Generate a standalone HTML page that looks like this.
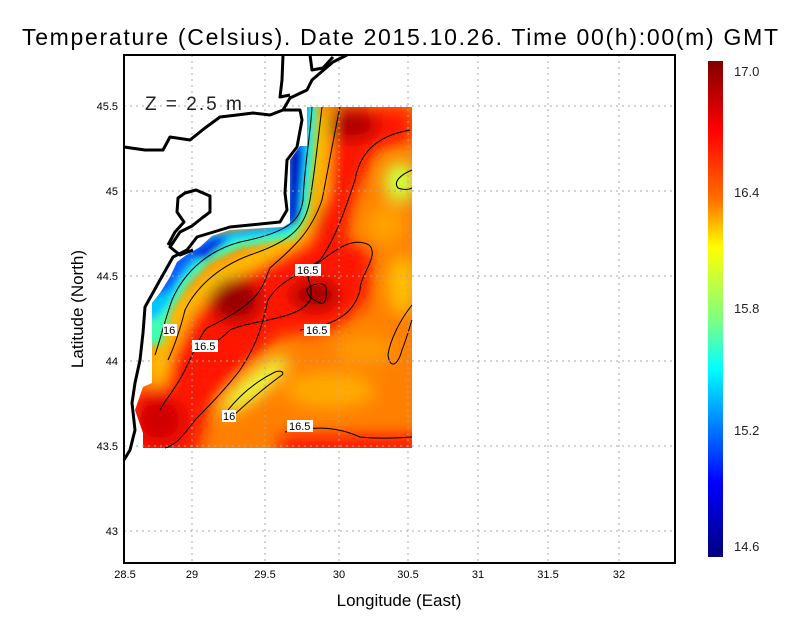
<!DOCTYPE html>
<html><head><style>
body{margin:0;background:#fff;}
svg text{font-family:"Liberation Sans",sans-serif;}
</style></head><body>
<svg width="800" height="618" viewBox="0 0 800 618" xmlns="http://www.w3.org/2000/svg">
<defs>
<linearGradient id="cb" x1="0" y1="0" x2="0" y2="1">
<stop offset="0" stop-color="#800000"/>
<stop offset="0.14" stop-color="#ff0000"/>
<stop offset="0.28" stop-color="#ff7000"/>
<stop offset="0.375" stop-color="#ffff00"/>
<stop offset="0.52" stop-color="#80ff80"/>
<stop offset="0.62" stop-color="#00ffff"/>
<stop offset="0.85" stop-color="#0000ff"/>
<stop offset="1" stop-color="#000080"/>
</linearGradient>
<clipPath id="dc">
<polygon points="307,107 412,107 412,448 143,448 143,433 135,410 143,387 152,383 152,303 160,293 170,277 177,262 185,256 200,247 212,236 230,230 283,227 290,223 290,160 300,146 307,146"/>
</clipPath>
<filter id="bl" x="-20%" y="-20%" width="140%" height="140%"><feGaussianBlur stdDeviation="8"/></filter>
<filter id="bl2" x="-20%" y="-20%" width="140%" height="140%"><feGaussianBlur stdDeviation="3.5"/></filter>
</defs>

<text x="400" y="45" font-size="23" text-anchor="middle" textLength="756" lengthAdjust="spacing">Temperature (Celsius). Date 2015.10.26. Time 00(h):00(m)  GMT</text>

<g clip-path="url(#dc)">
<rect x="120" y="100" width="300" height="360" fill="#ff8000"/>
<g filter="url(#bl)">
<path d="M125,460 L130,400 L175,360 L200,310 L245,275 L295,245 L325,200 L330,150 L340,108 L412,108 L412,140 L375,150 L355,195 L345,240 L372,250 L368,300 L335,330 L280,335 L245,370 L210,405 L195,460Z" fill="#ff1500"/>
<ellipse cx="235" cy="300" rx="26" ry="22" fill="#9a0000"/>
<ellipse cx="315" cy="295" rx="24" ry="15" fill="#a00000"/>
<ellipse cx="350" cy="125" rx="28" ry="16" fill="#b00000"/>
<ellipse cx="312" cy="205" rx="10" ry="25" fill="#c00000"/>
<ellipse cx="160" cy="420" rx="24" ry="24" fill="#d00000"/>
<ellipse cx="255" cy="385" rx="42" ry="11" transform="rotate(-40 255 385)" fill="#e8ff40"/>
<ellipse cx="400" cy="182" rx="16" ry="20" fill="#d0ff40"/>
<ellipse cx="402" cy="285" rx="14" ry="30" fill="#ffc000"/>
<ellipse cx="330" cy="390" rx="45" ry="18" fill="#ffaa00"/>
<ellipse cx="365" cy="350" rx="30" ry="15" fill="#ff9a00"/>
<ellipse cx="385" cy="225" rx="20" ry="20" fill="#ffa000"/>
<rect x="280" y="436" width="140" height="20" fill="#ff1000"/>
<path d="M158,385 L160,350 L180,310 L215,275 L260,255 L300,235 L318,190 L322,110" fill="none" stroke="#ffe000" stroke-width="12"/>
</g>
<g filter="url(#bl2)">
<path d="M300,100 L318,100 L314,160 L308,215 L295,238 L240,248 L210,262 L188,285 L172,310 L162,345 L146,345 L146,290 L170,260 L205,238 L280,225 L288,160 L295,100Z" fill="#40ffb0"/>
<path d="M300,100 L312,100 L308,160 L302,215 L288,232 L235,240 L205,255 L182,280 L168,305 L155,320 L146,318 L146,285 L172,255 L205,235 L282,224 L288,160 L295,100Z" fill="#00c8ff"/>
<path d="M298,100 L306,100 L303,160 L298,218 L284,228 L232,234 L205,248 L185,268 L170,290 L150,300 L150,285 L172,258 L206,238 L283,225 L288,160Z" fill="#1060ff"/>
<path d="M290,150 L302,150 L298,222 L290,225Z" fill="#0008c0"/>
<path d="M190,255 L215,240 L228,240 L205,260Z" fill="#0030e0"/>
</g>
</g>

<g fill="none" stroke="#000" stroke-width="1">
<path d="M312,107 C310,140 305,160 303,200 C300,220 290,232 240,242 C210,250 185,270 172,300 C165,320 160,340 155,355"/>
<path d="M322,107 C318,140 315,170 310,200 C305,225 295,240 250,255 C215,268 195,290 185,310 C180,330 175,345 168,360"/>
<path d="M340,107 C333,140 328,170 322,200 C310,235 290,250 270,268 C262,285 265,300 207,328 C200,335 195,350 185,370 C175,390 165,400 160,410"/>
<path d="M410,130 C380,135 360,150 355,180 C345,210 335,240 320,260 C300,275 280,280 268,300 C263,320 260,340 240,370 C225,390 205,410 195,420 C180,440 175,445 165,448"/>
<path d="M369,245 C350,235 330,255 315,265 C300,280 315,280 310,300 C300,320 250,320 230,330 C215,345 210,345 205,340"/>
<path d="M369,245 C380,255 360,275 360,290 C355,310 340,325 300,330"/>
<path d="M307,289 C316,282 323,282 326,287 C327,300 325,305 320,303 C313,300 306,295 307,289Z"/>
<path d="M232,417 C250,400 268,385 282,375 C285,372 280,370 275,372 C255,382 240,395 228,410"/>
<path d="M412,170 C400,175 393,182 398,188 C403,190 408,190 412,188"/>
<path d="M412,305 C400,320 390,340 388,355 C390,370 398,365 402,350 C408,335 410,325 412,320"/>
<path d="M285,432 C320,425 340,428 360,437 C380,439 400,438 412,437"/>
</g>
<g font-size="11">
<rect x="295" y="264" width="26" height="12" fill="#fff"/><text x="297" y="274">16.5</text>
<rect x="304" y="324" width="26" height="12" fill="#fff"/><text x="306" y="334">16.5</text>
<rect x="192" y="340" width="26" height="12" fill="#fff"/><text x="194" y="350">16.5</text>
<rect x="163" y="324" width="14" height="12" fill="#fff"/><text x="163" y="334">16</text>
<rect x="222" y="410" width="14" height="12" fill="#fff"/><text x="223" y="420">16</text>
<rect x="287" y="420" width="26" height="12" fill="#fff"/><text x="289" y="430">16.5</text>
</g>

<g stroke="#aaa" stroke-width="1" stroke-dasharray="2,4">
<line x1="192" y1="55" x2="192" y2="563"/><line x1="265" y1="55" x2="265" y2="563"/>
<line x1="339" y1="55" x2="339" y2="563"/><line x1="408" y1="55" x2="408" y2="563"/>
<line x1="478" y1="55" x2="478" y2="563"/><line x1="548" y1="55" x2="548" y2="563"/>
<line x1="619" y1="55" x2="619" y2="563"/>
<line x1="124" y1="106" x2="675" y2="106"/><line x1="124" y1="191" x2="675" y2="191"/>
<line x1="124" y1="276" x2="675" y2="276"/><line x1="124" y1="361" x2="675" y2="361"/>
<line x1="124" y1="446" x2="675" y2="446"/><line x1="124" y1="531" x2="675" y2="531"/>
</g>

<g fill="none" stroke="#000" stroke-width="3" stroke-linejoin="round">
<path d="M124,460 L130,450 L135,430 L132,403 L135,383 L140,360 L143,333 L145,307 L160,280 L173,257 L187,250 L197,237 L230,227 L280,222 L287,210 L285,193 L287,160 L297,147 L302,120 L300,110 L283,110 L290,98 L307,90 L312,80 L333,62 L347,55"/>
<path d="M124,147 L145,150 L163,150 L170,137 L190,140 L205,128 L220,117 L237,115 L253,113 L270,115 L283,110"/>
<path d="M283,55 L282,80 L280,97 L290,95"/>
<path d="M310,55 L312,70 L323,68 L333,57"/>
<path d="M193,250 L180,255 L170,247 L180,232 L192,226 L202,218 L210,212 L210,196 L196,190 L185,193 L178,198 L177,212 L184,222 L175,232 L168,245"/>
</g>

<rect x="124" y="55" width="551" height="508" fill="none" stroke="#000" stroke-width="2"/>
<text x="145" y="110" font-size="19" fill="#222" letter-spacing="2">Z = 2.5 m</text>

<g font-size="11" text-anchor="middle">
<text x="125" y="578">28.5</text><text x="192" y="578">29</text><text x="265" y="578">29.5</text>
<text x="339" y="578">30</text><text x="408" y="578">30.5</text><text x="478" y="578">31</text>
<text x="548" y="578">31.5</text><text x="619" y="578">32</text>
</g>
<g font-size="11" text-anchor="end">
<text x="118" y="110">45.5</text><text x="118" y="195">45</text><text x="118" y="280">44.5</text>
<text x="118" y="365">44</text><text x="118" y="450">43.5</text><text x="118" y="535">43</text>
</g>
<text x="399" y="606" font-size="17" text-anchor="middle">Longitude (East)</text>
<text transform="translate(83,309) rotate(-90)" font-size="17" text-anchor="middle">Latitude (North)</text>

<rect x="708" y="61" width="15" height="496" fill="url(#cb)"/>
<g font-size="13" fill="#222">
<text x="734" y="76">17.0</text><text x="734" y="197">16.4</text><text x="734" y="313">15.8</text>
<text x="734" y="435">15.2</text><text x="734" y="551">14.6</text>
</g>
</svg>
</body></html>
